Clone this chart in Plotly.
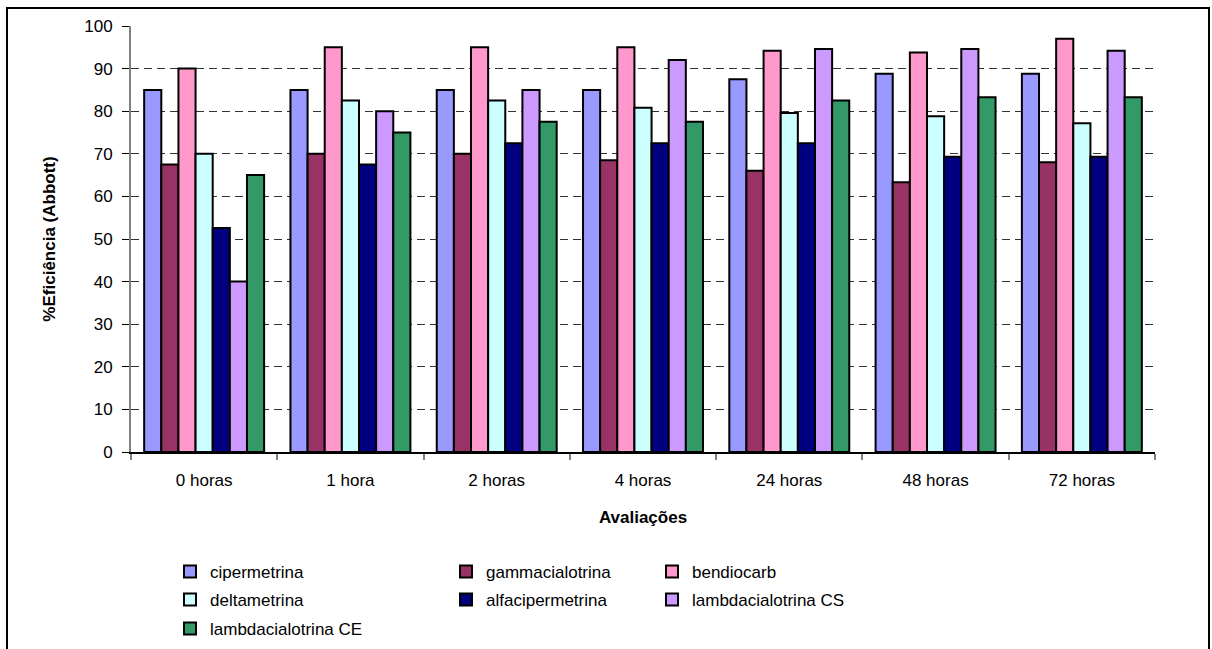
import plotly.graph_objects as go

categories = ["0 horas", "1 hora", "2 horas", "4 horas", "24 horas", "48 horas", "72 horas"]

cipermetrina = [85, 85, 85, 85, 87.5, 88.8, 88.8]
gammacialotrina = [67.5, 70, 70, 68.5, 66, 63.3, 68]
bendiocarb = [90, 95, 95, 95, 94.2, 93.8, 97]
deltametrina = [70, 82.5, 82.5, 80.8, 79.6, 78.8, 77.2]
alfacipermetrina = [52.6, 67.5, 72.5, 72.5, 72.5, 69.3, 69.3]
lambda_cs = [40, 80, 85, 92, 94.6, 94.6, 94.2]
lambda_ce = [65, 75, 77.5, 77.5, 82.5, 83.3, 83.3]

series_names = ["cipermetrina", "gammacialotrina", "bendiocarb", "deltametrina",
                "alfacipermetrina", "lambdacialotrina CS", "lambdacialotrina CE"]
series_values = [cipermetrina, gammacialotrina, bendiocarb, deltametrina,
                 alfacipermetrina, lambda_cs, lambda_ce]
colors = ["#9999FF", "#993366", "#FF99CC", "#CCFFFF", "#000080", "#CC99FF", "#339966"]

# legend slot per series (column x-position in px, row y-position in px)
legend_cols_px = [170, 170 + 276, 170 + 482]
legend_rows_px = [572, 600, 629]
slots = [(0, 0), (1, 0), (2, 0), (0, 1), (1, 1), (2, 1), (0, 2)]

W, H = 1212, 649
L, R, T, B = 131, 57, 26, 197
pw, ph = W - L - R, H - T - B

def px_to_paper_x(px):
    return (px - L) / pw

def px_to_paper_y(py):
    return (H - B - py) / ph

font_family = "Liberation Sans, Arial, sans-serif"

fig = go.Figure()
layout_legends = {}
for i, (name, vals, col) in enumerate(zip(series_names, series_values, colors)):
    lname = "legend" if i == 0 else f"legend{i+1}"
    fig.add_trace(go.Bar(
        x=categories, y=vals, name=name,
        marker=dict(color=col, line=dict(color="black", width=2)),
        legend=lname,
    ))
    c, r = slots[i]
    layout_legends[lname] = dict(
        x=px_to_paper_x(legend_cols_px[c]), xanchor="left",
        y=px_to_paper_y(legend_rows_px[r]), yanchor="middle",
        font=dict(family=font_family, size=17, color="black"),
        bgcolor="rgba(0,0,0,0)", borderwidth=0,
    )

fig.update_layout(
    width=W, height=H,
    margin=dict(l=L, r=R, t=T, b=B, autoexpand=False),
    paper_bgcolor="white", plot_bgcolor="white",
    barmode="group", bargap=0.18, bargroupgap=0,
    font=dict(family=font_family, size=17, color="black"),
    showlegend=True,
    **layout_legends,
)

fig.update_xaxes(
    type="category",
    showline=True, linecolor="black", linewidth=1.5,
    ticks="outside", tickson="boundaries", ticklen=6, tickcolor="#808080", tickwidth=1.5,
    tickfont=dict(size=17),
    ticklabelstandoff=12,
    showgrid=False,
    title=dict(text="<b>Avaliações</b>", font=dict(size=17), standoff=22),
)

fig.update_yaxes(
    range=[0, 100], dtick=10,
    showline=True, linecolor="#808080", linewidth=2,
    ticks="outside", ticklen=7, tickcolor="black", tickwidth=1,
    tickfont=dict(size=17),
    ticklabelstandoff=6,
    showgrid=True, gridcolor="#333333", gridwidth=1, griddash="8px,5px",
    zeroline=False,
    title=dict(text="<b>%Eficiência (Abbott)</b>", font=dict(size=17), standoff=24),
)

# outer chart border
fig.add_shape(type="rect", xref="paper", yref="paper",
              x0=px_to_paper_x(7), x1=px_to_paper_x(1209),
              y0=px_to_paper_y(660), y1=px_to_paper_y(8),
              line=dict(color="black", width=2), fillcolor="rgba(0,0,0,0)", layer="below")

fig.write_html("out.html")
